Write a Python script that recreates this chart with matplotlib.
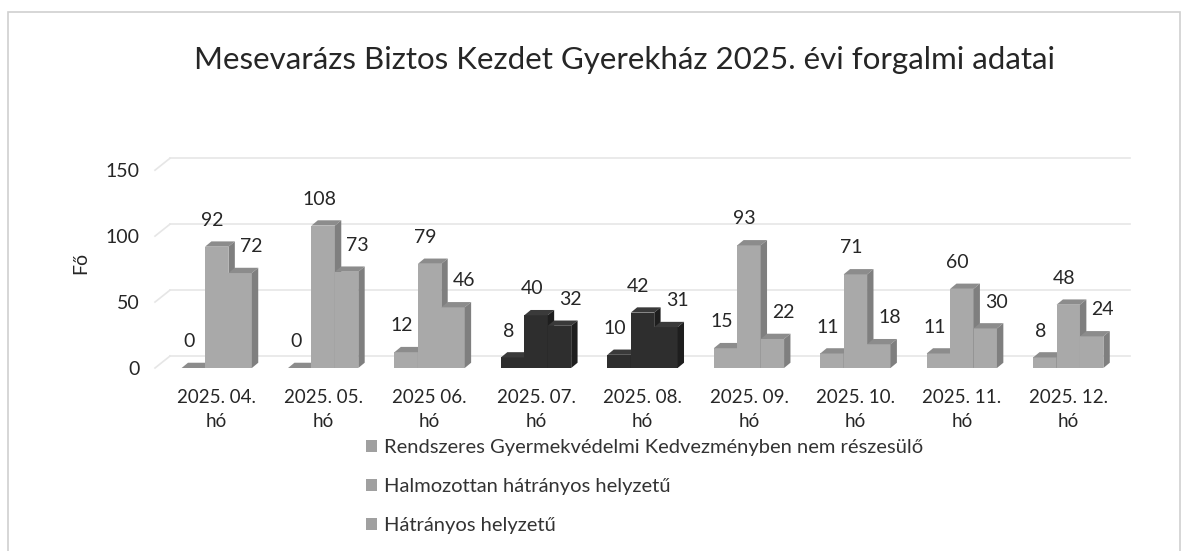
import matplotlib.pyplot as plt
from matplotlib.patches import Polygon, Rectangle
import numpy as np

plt.rcParams['font.family'] = ['Lato', 'DejaVu Sans']

months = ['2025. 04.\nhó', '2025. 05.\nhó', '2025 06.\nhó', '2025. 07.\nhó', '2025. 08.\nhó',
          '2025. 09.\nhó', '2025. 10.\nhó', '2025. 11.\nhó', '2025. 12.\nhó']
nem_reszesulo = [0, 0, 12, 8, 10, 15, 11, 11, 8]
halmozottan = [92, 108, 79, 40, 42, 93, 71, 60, 48]
hatranyos = [72, 73, 46, 32, 31, 22, 18, 30, 24]
series_names = ['Rendszeres Gyermekvédelmi Kedvezményben nem részesülő',
                'Halmozottan hátrányos helyzetű',
                'Hátrányos helyzetű']

# the scan shows two months printed almost black
dark_months = [3, 4]

W = 0.22
DX = 0.06
DY = 4.0


def bar3d(ax, x, h, face, side, top, z):
    ax.bar(x, h, W, color=face, edgecolor='none', zorder=z)
    l, r = x - W / 2, x + W / 2
    ax.add_patch(Polygon([(l, h), (l + DX, h + DY), (r + DX, h + DY), (r, h)],
                         closed=True, facecolor=top, edgecolor='none', zorder=z))
    ax.add_patch(Polygon([(r, 0), (r + DX, DY), (r + DX, h + DY), (r, h)],
                         closed=True, facecolor=side, edgecolor='none', zorder=z))


def main():
    fig = plt.figure(figsize=(11.94, 5.51), dpi=100)
    fig.patches.append(Rectangle((8 / 1194, -0.01), 1172 / 1194, 1 - 12 / 551 + 0.01,
                                 transform=fig.transFigure, fill=False,
                                 edgecolor='#d0d0d0', linewidth=1.2))

    ax = fig.add_axes([155 / 1194, 183 / 551, 975 / 1194, 211 / 551])
    x = np.arange(len(months))
    ax.set_xlim(-0.58, 8.58)
    ax.set_ylim(0, 160)

    # back wall gridlines with a little perspective
    for v in [0, 50, 100, 150]:
        ax.plot([-0.58, -0.44], [v, v + 9], color='#e6e6e6', lw=1.2, zorder=1, clip_on=False)
        ax.plot([-0.44, 8.58], [v + 9, v + 9], color='#e6e6e6', lw=1.2, zorder=1, clip_on=False)

    offsets = [-0.22, 0.0, 0.22]
    data = [nem_reszesulo, halmozottan, hatranyos]
    label_dx = [-3, -3, 8]
    for s, vals in enumerate(data):
        for i, v in enumerate(vals):
            if i in dark_months:
                face, side, top = '#2e2e2e', '#1e1e1e', '#3a3a3a'
            else:
                face, side, top = '#a9a9a9', '#7f7f7f', '#8c8c8c'
            bar3d(ax, x[i] + offsets[s], v, face, side, top, 3 + s)
            ax.annotate(str(v), (x[i] + offsets[s], v), xytext=(label_dx[s], 19),
                        textcoords='offset points', ha='center', va='center',
                        fontsize=14, color='#262626', zorder=10)

    for sp in ax.spines.values():
        sp.set_visible(False)
    ax.set_yticks([0, 50, 100, 150])
    ax.set_xticks(x)
    ax.set_xticklabels(months, fontsize=13.5, color='#262626', linespacing=1.5)
    ax.tick_params(axis='both', length=0, colors='#262626')
    ax.tick_params(axis='y', pad=11, labelsize=14)
    ax.tick_params(axis='x', pad=15)
    ax.set_ylabel('Fő', fontsize=14, color='#262626', labelpad=12)

    fig.text(624 / 1194, 1 - 60 / 551, 'Mesevarázs Biztos Kezdet Gyerekház 2025. évi forgalmi adatai',
             ha='center', va='center', fontsize=22.5, color='#262626')

    handles = [Rectangle((0, 0), 1, 1, facecolor='#a0a0a0') for _ in series_names]
    fig.legend(handles, series_names, loc='upper left', bbox_to_anchor=(366 / 1194, 1 - 439 / 551),
               frameon=False, fontsize=14.5, labelcolor='#333333', handlelength=0.55, handleheight=0.55,
               handletextpad=0.35, labelspacing=1.1, borderpad=0, borderaxespad=0)

    fig.savefig('out.png', dpi=100)


if __name__ == '__main__':
    main()
